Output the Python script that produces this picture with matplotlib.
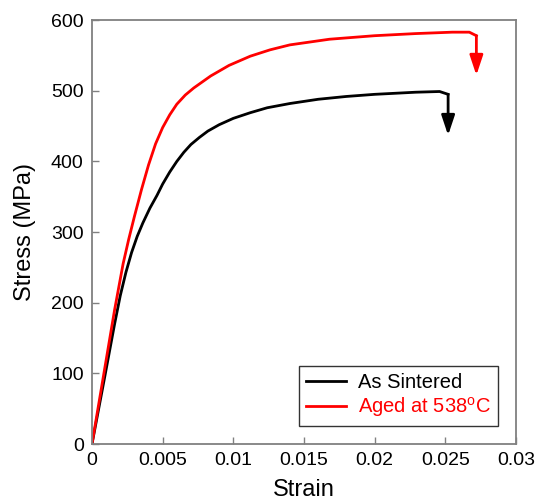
import matplotlib

matplotlib.use("Agg", force=True)
import matplotlib.pyplot as plt

plt.rcParams["font.family"] = ["Liberation Sans", "DejaVu Sans"]
plt.rcParams["mathtext.fontset"] = "custom"
plt.rcParams["mathtext.rm"] = "Liberation Sans"

sintered_strain = [0, 0.0009, 0.0016, 0.0020, 0.0024, 0.0028, 0.0032, 0.0036, 0.0041, 0.0046,
                   0.0050, 0.0055, 0.0060, 0.0065, 0.0070, 0.0076, 0.0082, 0.0090,
                   0.0100, 0.0112, 0.0124, 0.0140, 0.0160, 0.0180, 0.0200, 0.0229,
                   0.0246, 0.0252]
sintered_stress = [0, 95, 170, 210, 243, 271, 294, 313, 334, 352,
                   368, 385, 400, 413, 424, 434, 443, 452,
                   461, 469, 476, 482, 488, 492, 495, 498,
                   499, 495]
sintered_tip = 437

aged_strain = [0, 0.0008, 0.0016, 0.0022, 0.0026, 0.0030, 0.0035, 0.0040, 0.0045,
               0.0050, 0.0055, 0.0060, 0.0066, 0.0072, 0.0084, 0.0097, 0.0112,
               0.0126, 0.0140, 0.0168, 0.0200, 0.0229, 0.0255, 0.0267, 0.0272]
aged_stress = [0, 95, 190, 255, 290, 322, 360, 395, 425,
               448, 466, 481, 494, 504, 521, 536, 549,
               558, 565, 573, 578, 581, 583, 583, 578]
aged_tip = 522

labels = ["As Sintered", "Aged at 538$^{\\mathrm{o}}$C"]
colors = ["black", "#ff0000"]
x_ticks = [0, 0.005, 0.01, 0.015, 0.02, 0.025, 0.03]
x_tick_labels = ["0", "0.005", "0.01", "0.015", "0.02", "0.025", "0.03"]
y_ticks = [0, 100, 200, 300, 400, 500, 600]

fig = plt.figure(figsize=(5.38, 5.04), dpi=100)
ax = fig.add_axes([0.171, 0.119, 0.788, 0.841])

series = [
    (sintered_strain, sintered_stress, sintered_tip),
    (aged_strain, aged_stress, aged_tip),
]
for (xs, ys, tip), label, color in zip(series, labels, colors):
    ax.plot(xs, ys, color=color, lw=2.0, label=label, solid_joinstyle="round")
    ax.annotate("", xy=(xs[-1], tip), xytext=(xs[-1], ys[-1]),
                arrowprops=dict(arrowstyle="-|>,head_length=0.6,head_width=0.2",
                                color=color, lw=2.0, mutation_scale=20,
                                shrinkA=0, shrinkB=0))

ax.set_xlim(0, 0.03)
ax.set_ylim(0, 600)
ax.set_xticks(x_ticks)
ax.set_xticklabels(x_tick_labels)
ax.set_yticks(y_ticks)
ax.tick_params(direction="in", length=5, width=1, color="#808080",
               labelsize=14, pad=6)
for spine in ax.spines.values():
    spine.set_color("#808080")
    spine.set_linewidth(1.3)

ax.set_xlabel("Strain", fontsize=17, labelpad=7)
ax.set_ylabel("Stress (MPa)", fontsize=17, labelpad=11)

leg = ax.legend(loc="lower right", fontsize=14.5, frameon=True, fancybox=False,
                handlelength=2.0, handletextpad=0.6, borderpad=0.35,
                labelspacing=0.15, borderaxespad=0.9)
leg.get_frame().set_edgecolor("black")
leg.get_frame().set_linewidth(1.0)
for text, color in zip(leg.get_texts(), colors):
    text.set_color(color)

fig.savefig("out.png", dpi=100)
